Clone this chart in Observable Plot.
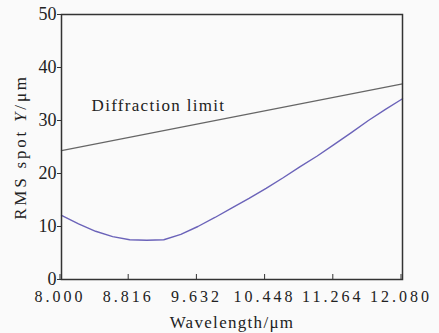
<!DOCTYPE html>
<html>
<head>
<meta charset="utf-8">
<script src="https://cdn.jsdelivr.net/npm/d3@7"></script>
<script src="https://cdn.jsdelivr.net/npm/@observablehq/plot@0.6"></script>
<style>
  html, body { margin: 0; padding: 0; background: #fafafa; }
  #chart svg { display: block; background: #fafafa; }
  #chart svg g[aria-label="x-axis tick label"] text { letter-spacing: 3px; font-size: 16px; }
  #chart svg g[aria-label="y-axis tick label"] text { font-size: 18px; }
  #chart svg g[aria-label="x-axis label"] text { letter-spacing: 1.3px; font-size: 17px; }
  #chart svg g[aria-label="y-axis label"] text { letter-spacing: 2.8px; font-size: 17px; }
  #chart svg g[aria-label="text"] text { letter-spacing: 1.3px; font-size: 17px; }
</style>
</head>
<body>
<div id="chart"></div>
<script>
// Wavelength samples (µm) and RMS spot radius (µm)
const wavelength = [8.000, 8.204, 8.408, 8.612, 8.816, 9.020, 9.224, 9.428, 9.632, 9.836, 10.040,
                    10.244, 10.448, 10.652, 10.856, 11.060, 11.264, 11.468, 11.672, 11.876, 12.080];
const rmsSpot = [12.1, 10.5, 9.1, 8.1, 7.5, 7.4, 7.5, 8.5, 10.0, 11.7, 13.5,
                 15.3, 17.2, 19.2, 21.3, 23.3, 25.5, 27.7, 30.0, 32.1, 34.1];
// Diffraction limit (straight line)
const diffWavelength = [8.000, 12.080];
const diffLimit = [24.3, 36.9];
// Tick labels
const xTicks = [8.000, 8.816, 9.632, 10.448, 11.264, 12.080];
const yTicks = [0, 10, 20, 30, 40, 50];
// Annotation
const annText = ["Diffraction limit"];
const annX = [8.36];
const annY = [32.8];

const curve = wavelength.map((w, i) => ({w, v: rmsSpot[i]}));
const diff = diffWavelength.map((w, i) => ({w, v: diffLimit[i]}));
const ann = annText.map((t, i) => ({t, w: annX[i], v: annY[i]}));

const chart = Plot.plot({
  width: 439,
  height: 333,
  marginLeft: 61,
  marginRight: 37,
  marginTop: 14,
  marginBottom: 54,
  style: {fontFamily: "'Liberation Serif', 'Times New Roman', serif", fontSize: "16px", color: "#222", background: "#fafafa"},
  x: {domain: [8.0, 12.08]},
  y: {domain: [0, 50]},
  marks: [
    Plot.line(diff, {x: "w", y: "v", stroke: "#666", strokeWidth: 1.3}),
    Plot.line(curve, {x: "w", y: "v", stroke: "#6b63b9", strokeWidth: 1.4}),
    Plot.text(ann, {x: "w", y: "v", text: "t", textAnchor: "start", fontSize: 17, fill: "#222"}),
    Plot.axisX({ticks: xTicks, tickFormat: d3.format(".3f"), tickSize: -5, tickPadding: 16, dx: -1.5, stroke: "#333",
      fontSize: 16, label: null}),
    Plot.axisX({ticks: [], label: "Wavelength/μm", labelAnchor: "center", labelArrow: "none", labelOffset: 48, fontSize: 17}),
    Plot.axisY({ticks: yTicks, tickSize: 4, tickPadding: 1, stroke: "#333", fontSize: 18, label: null}),
    Plot.axisY({ticks: [], label: "RMS spot Y/μm", labelAnchor: "center", labelArrow: "none", labelOffset: 48, fontSize: 17}),
    Plot.frame({stroke: "#333", strokeWidth: 1.5})
  ]
});
document.getElementById("chart").appendChild(chart);

// Italicize the "Y" in the y-axis label
chart.querySelectorAll("text").forEach(t => {
  if (t.textContent === "RMS spot Y/μm") {
    t.textContent = "";
    const parts = [["RMS spot ", null], ["Y", "italic"], ["/μm", null]];
    for (const [s, st] of parts) {
      const ts = document.createElementNS("http://www.w3.org/2000/svg", "tspan");
      ts.textContent = s;
      if (st) ts.setAttribute("font-style", st);
      t.appendChild(ts);
    }
  }
});
</script>
</body>
</html>
